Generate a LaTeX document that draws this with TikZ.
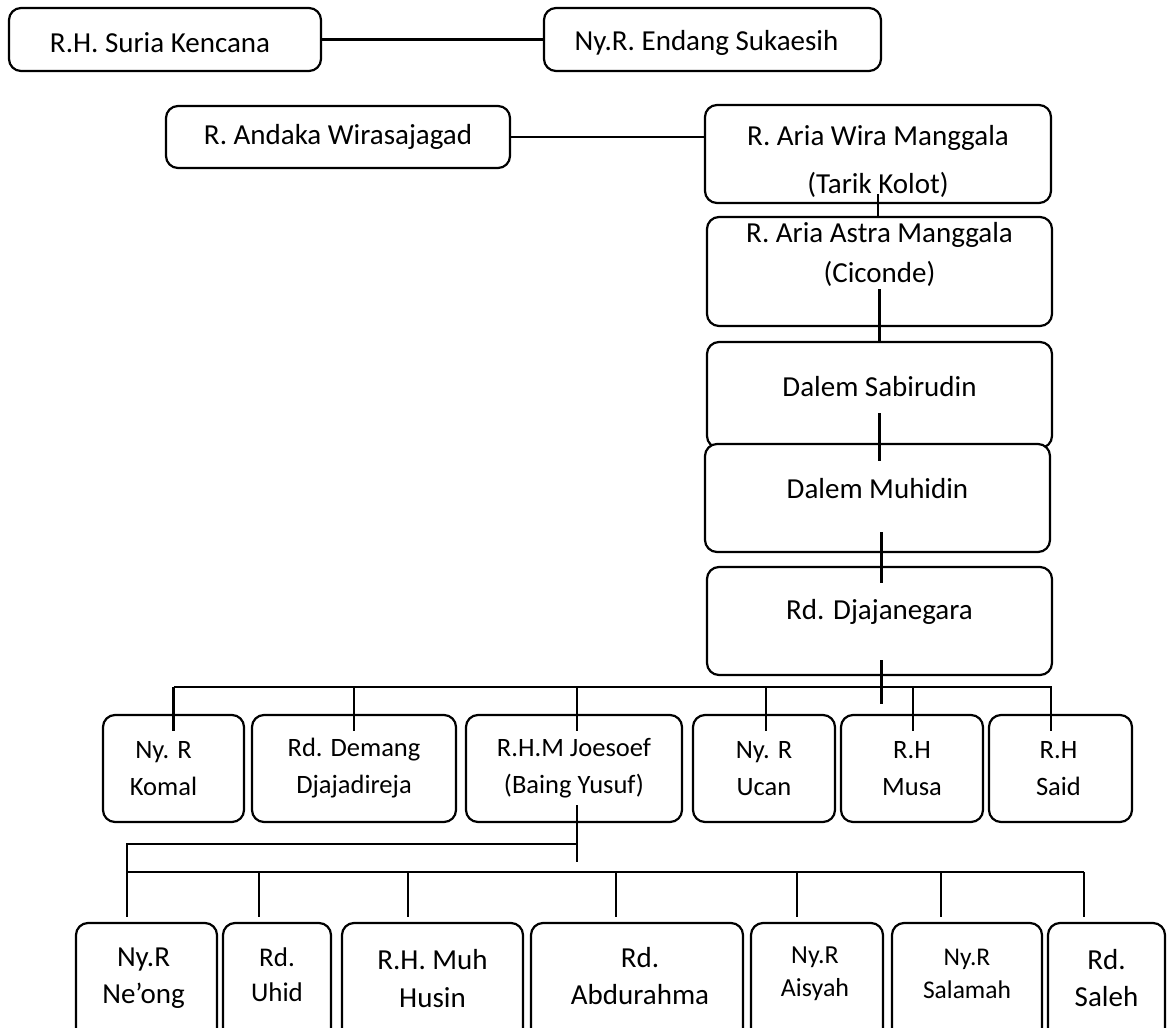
\documentclass[tikz,border=0pt]{standalone}
\usepackage{fontspec}
\setmainfont{Carlito}
\usetikzlibrary{positioning, calc}
\tikzset{
    person/.style={draw, line width=2.2pt, rounded corners=12pt, inner sep=0pt},
    link/.style={line width=2.2pt},
    txt/.style 2 args={font=\fontsize{#1}{#2}\selectfont, align=center}
}
\begin{document}
\begin{tikzpicture}[x=1pt, y=-1pt]
    \useasboundingbox (0,0) rectangle (1168,1028);
    \clip (0,0) rectangle (1168,1028);

    % Top couple
    \node[person, minimum width=312pt, minimum height=63pt,
        label={[txt={29}{35}, xshift=-5pt, yshift=-3pt]center:R.H. Suria Kencana}] (suria) at (165,39.5) {};
    \node[person, minimum width=337pt, minimum height=63pt,
        label={[txt={29}{35}, xshift=-6pt, yshift=-3pt]center:Ny.R. Endang Sukaesih}] (endang) at (712.5,39.5) {};

    % Second couple
    \node[person, minimum width=344pt, minimum height=62pt,
        label={[txt={29}{35}]center:R. Andaka Wirasajagad}] (andaka) at (338,137) {};
    \node[person, minimum width=346pt, minimum height=98pt,
        label={[txt={29}{35}, yshift=-7pt]center:R. Aria Wira Manggala\\[13pt](Tarik Kolot)}] (wira) at (878,154) {};

    % Line of descent
    \node[person, minimum width=345pt, minimum height=109pt,
        label={[txt={29}{35}, yshift=17.5pt]center:R. Aria Astra Manggala\\[5pt](Ciconde)}] (astra) at (879.5,271.5) {};
    \node[person, minimum width=345pt, minimum height=106pt,
        label={[txt={29}{35}, yshift=8pt]center:Dalem Sabirudin}] (sabirudin) at (879.5,395) {};
    \node[person, fill=white, minimum width=345pt, minimum height=108pt,
        label={[txt={29}{35}, yshift=9pt]center:Dalem Muhidin}] (muhidin) at (877.5,498) {};
    \node[person, minimum width=345pt, minimum height=108pt,
        label={[txt={29}{35}, yshift=9pt]center:Rd. Djajanegara}] (djaja) at (879.5,621) {};

    % Children of Rd. Djajanegara
    \node[person, minimum width=141pt, minimum height=107pt,
        label={[txt={26.5}{37}, xshift=-10pt]center:Ny. R\\Komal}] (komal) at (173.5,768.5) {};
    \node[person, minimum width=204pt, minimum height=107pt,
        label={[txt={26.5}{37}]center:Rd. Demang\\Djajadireja}] (demang) at (354,768.5) {};
    \node[person, minimum width=216pt, minimum height=107pt,
        label={[txt={26.5}{37}]center:R.H.M Joesoef\\(Baing Yusuf)}] (joesoef) at (574,768.5) {};
    \node[person, minimum width=142pt, minimum height=107pt,
        label={[txt={26.5}{37}]center:Ny. R\\Ucan}] (ucan) at (764,768.5) {};
    \node[person, minimum width=142pt, minimum height=107pt,
        label={[txt={26.5}{37}]center:R.H\\Musa}] (musa) at (912,768.5) {};
    \node[person, minimum width=143pt, minimum height=107pt,
        label={[txt={26.5}{37}, xshift=-2pt]center:R.H\\Said}] (said) at (1060.5,768.5) {};

    % Children of R.H.M Joesoef
    \node[person, minimum width=141pt, minimum height=124pt,
        label={[txt={29}{37}, xshift=-3pt, yshift=6.5pt]center:Ny.R\\Ne’ong}] (neong) at (146.5,985) {};
    \node[person, minimum width=108pt, minimum height=124pt,
        label={[txt={27}{35}, yshift=10pt]center:Rd.\\Uhid}] (uhid) at (277,985) {};
    \node[person, minimum width=181pt, minimum height=124pt,
        label={[txt={29}{38}, yshift=6pt]center:R.H. Muh\\Husin}] (husin) at (432.5,985) {};
    \node[person, minimum width=212pt, minimum height=124pt,
        label={[txt={29}{37}, xshift=3pt, yshift=8.5pt]center:Rd.\\Abdurahma}] (abdurahma) at (637,985) {};
    \node[person, minimum width=132pt, minimum height=124pt,
        label={[txt={26}{33}, xshift=-2pt, yshift=11.5pt]center:Ny.R\\Aisyah}] (aisyah) at (817,985) {};
    \node[person, minimum width=150pt, minimum height=124pt,
        label={[txt={25.5}{33}, yshift=11.5pt]center:Ny.R\\Salamah}] (salamah) at (967,985) {};
    \node[person, minimum width=117pt, minimum height=124pt,
        label={[txt={29}{37}, yshift=6.5pt]center:Rd.\\Saleh}] (saleh) at (1106.5,985) {};

    % Marriages
    \draw[link] (suria) -- (endang);
    \draw[link] (andaka) -- (andaka -| wira.west);

    % Descent
    \draw[link] ([yshift=10pt]wira.south) -- (wira.south |- astra.north);
    \draw[link] ([yshift=38pt]astra.south) -- (sabirudin.north);
    \draw[link] ([yshift=36pt]sabirudin.south) -- ([yshift=-18pt]sabirudin.south |- muhidin.north);
    \draw[link] ([xshift=2pt, yshift=21pt]djaja.north |- muhidin.south) -- ([xshift=2pt, yshift=-17pt]djaja.north);
    \draw[link] ([xshift=2pt, yshift=16pt]djaja.south) -- ([xshift=2pt, yshift=10pt]djaja.south |- komal.north);

    % Bus over the children
    \coordinate (kids1) at (1051,687);
    \draw[link] (komal.north |- kids1) -- (kids1) -- ([yshift=-17pt]kids1 |- said.north);
    \foreach \n/\dx in {komal/0, demang/0, joesoef/3, ucan/2, musa/1} {
        \draw[link] ([xshift=\dx pt]\n.north |- kids1) -- ([xshift=\dx pt, yshift=-17pt]\n.north);
    }

    % Bus over the grandchildren
    \coordinate (kids2a) at (577,844);
    \coordinate (kids2b) at (127,872);
    \draw[link] ([xshift=3pt, yshift=18pt]joesoef.south) -- ([yshift=-18pt]kids2a);
    \draw[link] (kids2a) -- (kids2a -| kids2b) -- ([yshift=5pt]kids2b |- neong.north);
    \draw[link] (kids2b) -- ([xshift=-22.5pt]saleh.north |- kids2b);
    \foreach \n/\dx in {uhid/-18, husin/-24.5, abdurahma/-21, aisyah/-20, salamah/-26, saleh/-22.5} {
        \draw[link] ([xshift=\dx pt]\n.north |- kids2b) -- ([xshift=\dx pt, yshift=5pt]\n.north);
    }
\end{tikzpicture}
\end{document}
